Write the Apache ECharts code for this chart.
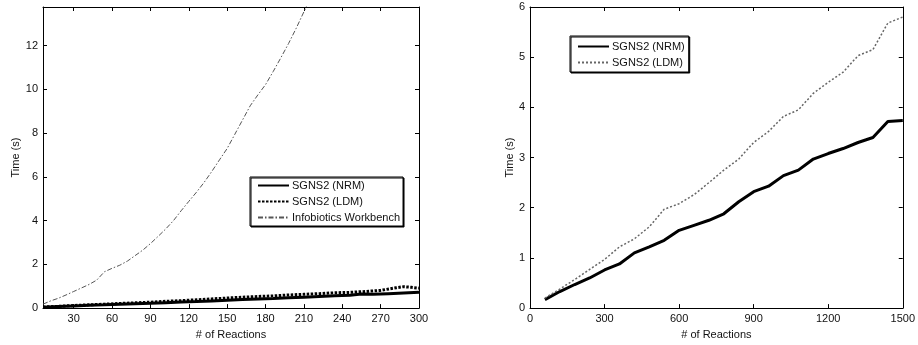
<!DOCTYPE html>
<html>
<head>
<meta charset="utf-8">
<script src="https://cdn.jsdelivr.net/npm/echarts@6/dist/echarts.min.js"></script>
<style>
  html, body { margin: 0; padding: 0; background: #fff; }
  #chart { width: 918px; height: 345px; }
</style>
</head>
<body>
<div id="chart"></div>
<script>
// left panel: small models
const leftNrmX = [6, 18, 30, 42, 54, 66, 78, 90, 102, 114, 126, 138, 150, 162, 174, 186, 198, 210, 222, 234, 246, 255, 264, 276, 288, 300];
const leftNrmY = [0.04, 0.07, 0.10, 0.13, 0.15, 0.18, 0.20, 0.22, 0.25, 0.28, 0.30, 0.33, 0.36, 0.39, 0.42, 0.44, 0.47, 0.50, 0.53, 0.56, 0.59, 0.65, 0.63, 0.66, 0.69, 0.72];
const leftLdmX = [6, 18, 30, 42, 54, 66, 78, 90, 102, 114, 126, 138, 150, 162, 174, 186, 198, 210, 222, 234, 246, 258, 270, 282, 288, 294, 300];
const leftLdmY = [0.05, 0.08, 0.12, 0.15, 0.18, 0.21, 0.24, 0.27, 0.31, 0.34, 0.38, 0.42, 0.46, 0.50, 0.53, 0.56, 0.60, 0.63, 0.66, 0.70, 0.72, 0.76, 0.81, 0.93, 0.98, 0.95, 0.91];
const iwX = [6, 12, 18, 24, 30, 36, 42, 48, 54, 60, 66, 72, 78, 84, 90, 96, 102, 108, 114, 120, 126, 132, 138, 144, 150, 156, 162, 168, 174, 180, 186, 192, 198, 204, 210, 216];
const iwY = [0.18, 0.33, 0.45, 0.60, 0.76, 0.92, 1.08, 1.28, 1.66, 1.82, 1.96, 2.15, 2.40, 2.65, 2.95, 3.28, 3.62, 4.00, 4.45, 4.88, 5.30, 5.75, 6.25, 6.78, 7.30, 7.95, 8.60, 9.25, 9.75, 10.22, 10.82, 11.45, 12.10, 12.80, 13.55, 14.30];

// right panel: large models
const rightX = [60, 120, 180, 240, 300, 360, 420, 480, 540, 600, 660, 720, 780, 840, 900, 960, 1020, 1080, 1140, 1200, 1260, 1320, 1380, 1440, 1500];
const rightNrm = [0.17, 0.33, 0.47, 0.60, 0.76, 0.88, 1.10, 1.22, 1.35, 1.55, 1.65, 1.75, 1.88, 2.12, 2.32, 2.43, 2.64, 2.75, 2.97, 3.08, 3.18, 3.30, 3.40, 3.72, 3.74];
const rightLdm = [0.20, 0.38, 0.57, 0.77, 0.97, 1.22, 1.38, 1.62, 1.97, 2.08, 2.26, 2.50, 2.75, 2.97, 3.30, 3.52, 3.82, 3.95, 4.28, 4.50, 4.70, 5.03, 5.15, 5.68, 5.80];

const leftXTicks = [30, 60, 90, 120, 150, 180, 210, 240, 270, 300];
const leftYTicks = [0, 2, 4, 6, 8, 10, 12];
const rightXTicks = [0, 300, 600, 900, 1200, 1500];
const rightYTicks = [0, 1, 2, 3, 4, 5, 6];

const legendText = {
  'L-NRM': 'SGNS2 (NRM)', 'L-LDM': 'SGNS2 (LDM)', 'L-IW': 'Infobiotics Workbench',
  'R-NRM': 'SGNS2 (NRM)', 'R-LDM': 'SGNS2 (LDM)'
};

const zip = (xs, ys) => xs.map((x, i) => [x, ys[i]]);
const font = 'Liberation Sans, Arial, sans-serif';

function valAxis(grid, pos, min, max, ticks, extra) {
  const main = pos === 'bottom' || pos === 'left';
  return Object.assign({
    type: 'value', gridIndex: grid, position: pos, min: min, max: max,
    splitLine: { show: false },
    axisLine: { show: true, onZero: false, lineStyle: { color: '#000', width: 1 } },
    axisTick: { show: true, inside: true, length: 4, customValues: ticks, lineStyle: { color: '#000' } },
    axisLabel: {
      show: main, customValues: ticks, color: '#111', fontSize: 11, fontFamily: font, margin: 5,
      formatter: (v) => String(v)
    },
    nameTextStyle: { color: '#111', fontSize: 11, fontFamily: font }
  }, extra || {});
}

const legendBase = {
  formatter: (n) => legendText[n],
  orient: 'vertical',
  itemWidth: 31, itemHeight: 10, itemGap: 5,
  itemStyle: { opacity: 0 },
  backgroundColor: '#fff', borderColor: '#000', borderWidth: 1,
  shadowColor: '#000', shadowOffsetX: 1, shadowOffsetY: 1, shadowBlur: 0,
  textStyle: { color: '#111', fontSize: 11, fontFamily: font, padding: [0, 0, 0, -2] }
};

const chart = echarts.init(document.getElementById('chart'), null, { renderer: 'canvas' });

chart.setOption({
  animation: false,
  backgroundColor: '#fff',
  grid: [
    { left: 43, top: 7, width: 376, height: 305 },
    { left: 530, top: 7, width: 377, height: 305 }
  ],
  xAxis: [
    valAxis(0, 'bottom', 6, 300, leftXTicks, { name: '# of Reactions', nameLocation: 'middle', nameGap: 17 }),
    valAxis(0, 'top', 6, 300, leftXTicks),
    valAxis(1, 'bottom', 0, 1500, rightXTicks, { name: '# of Reactions', nameLocation: 'middle', nameGap: 17 }),
    valAxis(1, 'top', 0, 1500, rightXTicks)
  ],
  yAxis: [
    valAxis(0, 'left', 0, 13.77, leftYTicks, { name: 'Time (s)', nameLocation: 'middle', nameGap: 20 }),
    valAxis(0, 'right', 0, 13.77, leftYTicks),
    valAxis(1, 'left', 0, 6, rightYTicks, { name: 'Time (s)', nameLocation: 'middle', nameGap: 15 }),
    valAxis(1, 'right', 0, 6, rightYTicks)
  ],
  legend: [
    Object.assign({}, legendBase, {
      data: ['L-NRM', 'L-LDM', 'L-IW'],
      left: 250, top: 177,
      padding: [3, 3, 3, 7]
    }),
    Object.assign({}, legendBase, {
      data: ['R-NRM', 'R-LDM'],
      left: 570, top: 36,
      padding: [5, 4, 4, 7]
    })
  ],
  series: [
    {
      name: 'L-NRM', type: 'line', xAxisIndex: 0, yAxisIndex: 0, data: zip(leftNrmX, leftNrmY),
      symbol: 'none', clip: true, color: '#000', lineStyle: { color: '#000', width: 3 }
    },
    {
      name: 'L-LDM', type: 'line', xAxisIndex: 0, yAxisIndex: 0, data: zip(leftLdmX, leftLdmY),
      symbol: 'none', clip: true, color: '#000', lineStyle: { color: '#000', width: 3, type: [2.5, 1.5] }
    },
    {
      name: 'L-IW', type: 'line', xAxisIndex: 0, yAxisIndex: 0, data: zip(iwX, iwY),
      symbol: 'none', clip: true, color: '#555', lineStyle: { color: '#555', width: 1, type: [5, 2, 1.5, 2] }
    },
    {
      name: 'R-NRM', type: 'line', xAxisIndex: 2, yAxisIndex: 2, data: zip(rightX, rightNrm),
      symbol: 'none', clip: true, color: '#000', lineStyle: { color: '#000', width: 3 }
    },
    {
      name: 'R-LDM', type: 'line', xAxisIndex: 2, yAxisIndex: 2, data: zip(rightX, rightLdm),
      symbol: 'none', clip: true, color: '#666', lineStyle: { color: '#666', width: 1.5, type: [2, 2] }
    }
  ]
});
</script>
</body>
</html>
